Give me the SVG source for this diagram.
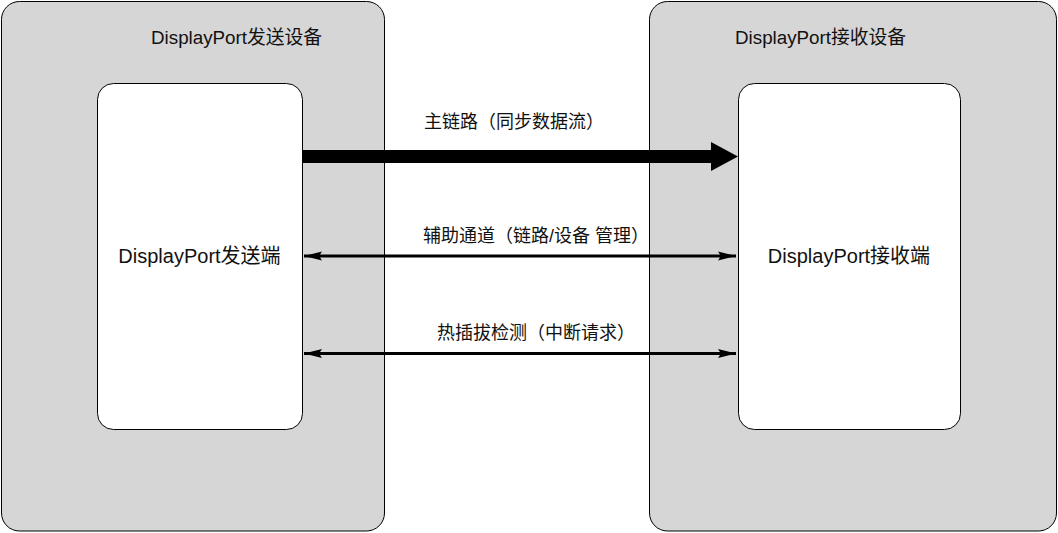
<svg xmlns="http://www.w3.org/2000/svg" width="1058" height="533" viewBox="0 0 1058 533">
<style>
.outer{fill:#d6d6d6;stroke:#000;stroke-width:1}
.inner{fill:#fff;stroke:#000;stroke-width:1}
.t{font-family:"Liberation Sans","Noto Sans CJK SC",sans-serif;font-size:18.8px;fill:#111}
.n{font-family:"Liberation Sans","Noto Sans CJK SC",sans-serif;font-size:20px;fill:#111}
.lbl{font-family:"Liberation Sans","Noto Sans CJK SC",sans-serif;font-size:18px;fill:#111}
.thin{stroke:#000;stroke-width:3;fill:none}
</style>
<defs>
<marker id="ah" markerUnits="userSpaceOnUse" markerWidth="20" markerHeight="12" refX="18" refY="5" orient="auto-start-reverse" viewBox="0 0 20 10">
<path d="M0,0.5 L18,5 L0,9.5 L3,5 Z" fill="#000"/>
</marker>
</defs>
<g id="sender-device">
<rect class="outer" x="1.5" y="1.5" width="383" height="529.5" rx="18" ry="18"/>
<text class="t" x="151" y="44">DisplayPort发送设备</text>
</g>
<g id="receiver-device">
<rect class="outer" x="649.5" y="1.5" width="407" height="529.5" rx="18" ry="18"/>
<text class="t" x="735" y="44">DisplayPort接收设备</text>
</g>
<g id="sender">
<rect class="inner" x="97.5" y="83.5" width="205" height="346" rx="16" ry="16"/>
<text class="n" x="199.5" y="263" text-anchor="middle">DisplayPort发送端</text>
</g>
<g id="receiver">
<rect class="inner" x="738.5" y="83.5" width="222" height="346" rx="16" ry="16"/>
<text class="n" x="849" y="263" text-anchor="middle">DisplayPort接收端</text>
</g>
<g id="connectors">
<line x1="302" y1="156.5" x2="712" y2="156.5" stroke="#000" stroke-width="13"/>
<polygon points="711,142 738,156.5 711,171" fill="#000"/>
<text class="lbl" x="424" y="128">主链路（同步数据流）</text>
<line class="thin" x1="304" y1="256" x2="736" y2="256" marker-start="url(#ah)" marker-end="url(#ah)"/>
<text class="lbl" x="423" y="242">辅助通道（链路/设备 管理）</text>
<line class="thin" x1="304" y1="353.5" x2="736" y2="353.5" marker-start="url(#ah)" marker-end="url(#ah)"/>
<text class="lbl" x="437" y="339">热插拔检测（中断请求）</text>
</g>
</svg>
